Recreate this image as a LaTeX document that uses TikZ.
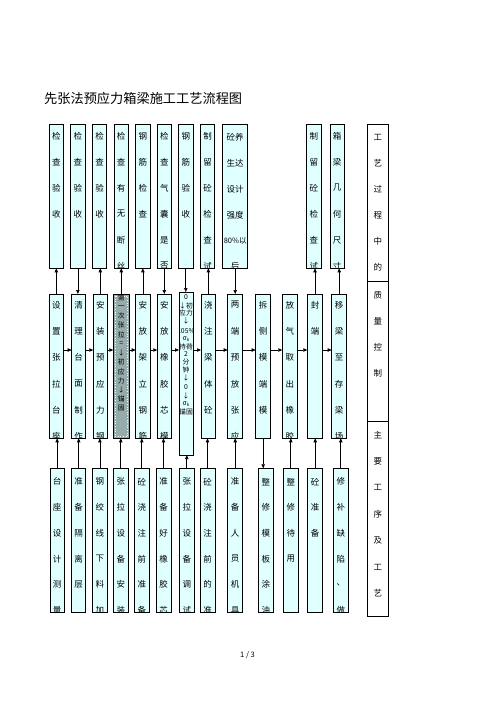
\documentclass[tikz,border=0pt]{standalone}
\usepackage{fontspec}
\setmainfont{Noto Sans CJK SC}
\usetikzlibrary{arrows.meta,calc}
\definecolor{boxfill}{RGB}{224,255,255}
\definecolor{greyfill}{RGB}{150,172,172}
\tikzset{
  boxst/.style={draw=black, line width=0.9pt, fill=boxfill, inner sep=0pt, outer sep=0pt, rectangle},
  chr/.style={font=\fontsize{8.5}{9}\selectfont, inner sep=0pt},
  smallchr/.style={font=\fontsize{6.8}{7}\selectfont, inner sep=0pt},
  arr/.style={line width=0.7pt, -{Triangle[length=4pt,width=3.4pt]}},
  colbox/.style={draw=black, line width=0.9pt, fill=white, inner sep=0pt, outer sep=0pt, rectangle},
}
% name, xleft, xright, ytop, ybottom, first offset, spacing, list
\newcommand\mkbox[8]{%
  \node[boxst, minimum width={#3pt-#2pt}, minimum height={#5pt-#4pt}] (#1) at ({(#2+#3)/2},{(#4+#5)/2}) {};
  \begin{scope}
    \clip (#2,#4) rectangle (#3,#5);
    \foreach \txt [count=\i from 0] in {#8} {\node[chr] at ({(#2+#3)/2},{#4+#6+\i*#7}) {\txt};}
  \end{scope}
  \draw[line width=0.9pt] (#2,#4) rectangle (#3,#5);
}
\newcommand\sigk{σ\raisebox{-1pt}{\fontsize{4.5}{5}\selectfont k}}
\begin{document}
\begin{tikzpicture}[x=1pt,y=-1pt]
\useasboundingbox[fill=white] (0,0) rectangle (496,702);

\node[anchor=west, inner sep=0pt, font=\fontsize{13.2}{14}\selectfont] (title) at (44,98) {先张法预应力箱梁施工工艺流程图};

% ---------- top row ----------
\mkbox{t1}{49.3}{63.3}{124.3}{268.3}{11.7}{26}{检,查,验,收}
\mkbox{t2}{70.7}{85}{124.3}{268.3}{11.7}{26}{检,查,验,收}
\mkbox{t3}{92.3}{106.7}{124.3}{268.3}{11.7}{26}{检,查,验,收}
\mkbox{t4}{114}{128.3}{124.3}{268.3}{11.7}{26}{检,查,有,无,断,丝}
\mkbox{t5}{135.7}{150}{124.3}{268.3}{11.7}{26}{钢,筋,检,查}
\mkbox{t6}{157.3}{171.3}{124.3}{268.3}{11.7}{26}{检,查,气,囊,是,否}
\mkbox{t7}{178.3}{193.3}{124.3}{268.3}{11.7}{26}{钢,筋,验,收}
\mkbox{t8}{200.7}{214.7}{124.3}{268.3}{11.7}{26}{制,留,砼,检,查,试}
\mkbox{t9}{222.7}{247.7}{124.3}{268.3}{12.5}{26}{砼养,生达,设计,强度,{\fontsize{7.5}{8}\selectfont 80\%以},后}
\mkbox{t10}{306}{321.7}{124.3}{268.3}{11.7}{26}{制,留,砼,检,查,试}
\mkbox{t11}{330}{344}{124.3}{268.3}{11.7}{26}{箱,梁,几,何,尺,寸}

% ---------- middle row ----------
\mkbox{m1}{49.3}{63.3}{294}{438.3}{11}{26.3}{设,置,张,拉,台,座}
\mkbox{m2}{71.7}{85.7}{294}{438.3}{11}{26.3}{清,理,台,面,制,作}
\mkbox{m3}{93.3}{107.3}{294}{438.3}{11}{26.3}{安,装,预,应,力,钢}
% grey box
\node[boxst, fill=greyfill, minimum width=16pt, minimum height=144.3pt] (m4) at (121.3,366.15) {};
\draw[white, line width=0.6pt, dotted] (115,296) rectangle (127.6,436.3);
\begin{scope}
  \clip (113.3,294) rectangle (129.3,438.3);
  \foreach \txt [count=\i from 0] in {第,一,次,张,拉,=,↓,初,应,力,↓,锚,固}
    {\node[smallchr] at (121.3,{297.5+\i*9.25}) {\txt};}
\end{scope}
\draw[line width=0.9pt] (113.3,294) rectangle (129.3,438.3);
\mkbox{m5}{135.7}{150}{294}{438.3}{11}{26.3}{安,放,架,立,钢,筋}
\mkbox{m6}{157.3}{171.3}{294}{438.3}{11}{26.3}{安,放,橡,胶,芯,模}
% tall node
\node[boxst, minimum width=14pt, minimum height=163pt] (m7) at (186,373.5) {};
\begin{scope}
  \clip (179,292) rectangle (193,455);
  \node[smallchr] at (186,296.7) {0};
  \node[smallchr] at (186,305.5) {↓初};
  \node[smallchr] at (186,313.3) {应力};
  \node[smallchr] at (186,320.5) {↓};
  \node[smallchr] at (186,330.7) {105\%};
  \node[smallchr] at (186,339.3) {\sigk};
  \node[smallchr] at (186,346.7) {持荷};
  \node[smallchr] at (186,354) {2};
  \node[smallchr] at (186,361.7) {分};
  \node[smallchr] at (186,370) {钟};
  \node[smallchr] at (186,378.3) {↓};
  \node[smallchr] at (186,387.3) {0};
  \node[smallchr] at (186,396) {↓};
  \node[smallchr] at (186,404) {\sigk};
  \node[smallchr] at (186,411.5) {锚固};
\end{scope}
\draw[line width=0.9pt] (179,292) rectangle (193,455);
\mkbox{m8}{201}{215.7}{294}{438.3}{11}{26.3}{浇,注,梁,体,砼}
\mkbox{m9}{227.7}{242.7}{294}{438.3}{11}{26.3}{两,端,预,放,张,应}
\mkbox{m10}{255.7}{270.7}{294}{438.3}{11}{26.3}{拆,侧,模,端,模}
\mkbox{m11}{282.3}{297.3}{294}{438.3}{11}{26.3}{放,气,取,出,橡,胶}
\mkbox{m12}{307.3}{322.7}{294}{438.3}{11}{26.3}{封,端}
\mkbox{m13}{331.7}{346.7}{294}{438.3}{11}{26.3}{移,梁,至,存,梁,场}

% ---------- bottom row ----------
\mkbox{b1}{50}{64.3}{468.3}{612.7}{13.4}{25.7}{台,座,设,计,测,量}
\mkbox{b2}{71.7}{85.7}{468.3}{612.7}{13.4}{25.7}{准,备,隔,离,层}
\mkbox{b3}{92.7}{107}{468.3}{612.7}{13.4}{25.7}{钢,绞,线,下,料,加}
\mkbox{b4}{113.3}{128.3}{468.3}{612.7}{13.4}{25.7}{张,拉,设,备,安,装}
\mkbox{b5}{134.3}{149.3}{468.3}{612.7}{13.4}{25.7}{砼,浇,注,前,准,备}
\mkbox{b6}{156}{171}{468.3}{612.7}{13.4}{25.7}{准,备,好,橡,胶,芯}
\mkbox{b7}{179.3}{194.3}{468.3}{612.7}{13.4}{25.7}{张,拉,设,备,调,试}
\mkbox{b8}{200}{215}{468.3}{612.7}{13.4}{25.7}{砼,浇,注,前,的,准}
\mkbox{b9}{227.7}{242.7}{468.3}{612.7}{13.4}{25.7}{准,备,人,员,机,具}
\mkbox{b10}{258.3}{273.3}{468.3}{612.7}{13.4}{25.7}{整,修,模,板,涂,油}
\mkbox{b11}{283.3}{298.3}{468.3}{612.7}{13.4}{25.7}{整,修,待,用}
\mkbox{b12}{307.7}{322.7}{468.3}{612.7}{13.4}{25.7}{砼,准,备}
\mkbox{b13}{333.3}{348.3}{468.3}{612.7}{13.4}{25.7}{修,补,缺,陷,、,做}

% ---------- right column ----------
\node[colbox, minimum width=21pt, minimum height=157.4pt] (r1) at (377.8,203) {};
\node[colbox, minimum width=21pt, minimum height=140pt] (r2) at (377.8,351.7) {};
\node[colbox, minimum width=21pt, minimum height=194.3pt] (r3) at (377.8,518.85) {};
\foreach \txt [count=\i from 0] in {工,艺,过,程,中,的} {\node[chr] at (377.8,{137.3+\i*25.9}) {\txt};}
\foreach \txt [count=\i from 0] in {质,量,控,制} {\node[chr] at (377.8,{295+\i*26.1}) {\txt};}
\foreach \txt [count=\i from 0] in {主,要,工,序,及,工,艺} {\node[chr] at (377.8,{435+\i*26.4}) {\txt};}

% ---------- connectors: top <-> middle ----------
\draw[arr] (m1.north) -- (m1.north |- t1.south);
\draw[arr] (t2.south) -- (t2.south |- m2.north);
\draw[arr] (m3.north) -- (m3.north |- t3.south);
\draw[arr] (m4.north) -- (m4.north |- t4.south);
\draw[arr] (m5.north) -- (m5.north |- t5.south);
\draw[arr] (t6.south) -- (t6.south |- m6.north);
\draw[arr] (t7.south) -- (t7.south |- m7.north);
\draw[arr] (m8.north) -- (m8.north |- t8.south);
\draw[arr] (t9.south) -- (t9.south |- m9.north);
\draw[arr] (m12.north) -- (m12.north |- t10.south);
\draw[arr] (m13.north) -- (m13.north |- t11.south);

% ---------- connectors: middle row ----------
\coordinate (hy) at (0,350);
\foreach \a/\b in {m1/m2,m2/m3,m3/m4,m4/m5,m5/m6,m6/m7,m7/m8,m8/m9,m9/m10,m10/m11,m11/m12,m12/m13}
  {\draw[arr] (\a.east |- hy) -- (\b.west |- hy);}

% ---------- connectors: bottom -> middle ----------
\foreach \k in {1,2,3,4,5,6,7,8,9,11,12,13}
  {\draw[arr] (b\k.north) -- (b\k.north |- m\k.south);}
\draw[arr] (m10.south) -- (m10.south |- b10.north);

\node[inner sep=0pt, font=\fontsize{7.5}{8}\selectfont] (pg) at (247.5,655) {1 / 3};
\end{tikzpicture}
\end{document}
